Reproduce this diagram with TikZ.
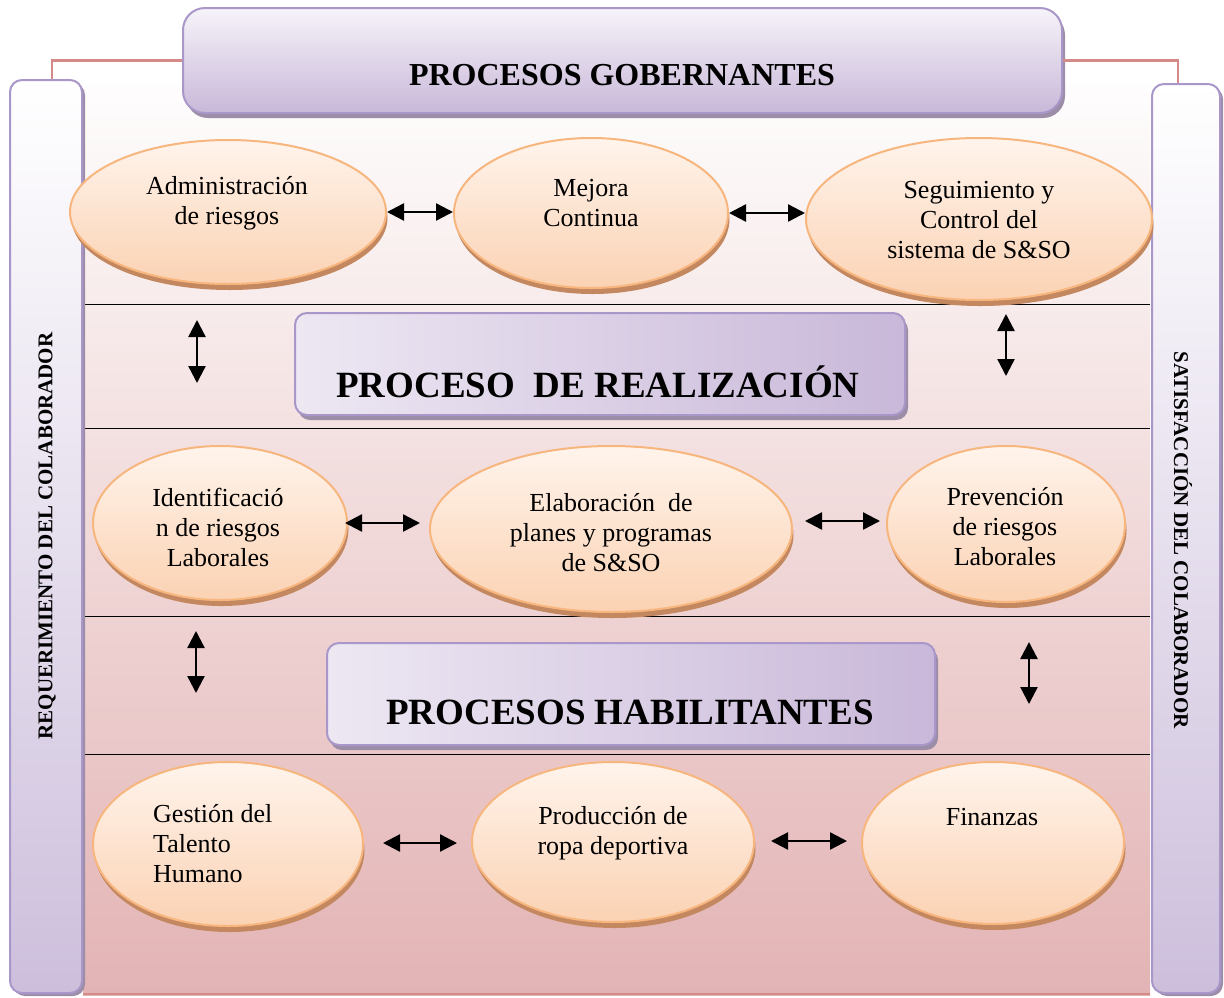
\documentclass[tikz,border=0pt]{standalone}
\usepackage{fontspec}
\setmainfont{Liberation Serif}
\usetikzlibrary{shapes.geometric,shadows,arrows.meta}
\definecolor{bgtop}{HTML}{FEFDFD}
\definecolor{bgbot}{HTML}{E3B3B4}
\definecolor{bartop}{HTML}{FFFFFF}
\definecolor{barbot}{HTML}{CDBFDC}
\definecolor{bborder}{HTML}{A897C8}
\definecolor{bshad}{HTML}{9C8DA8}
\definecolor{btop}{HTML}{F6F3F9}
\definecolor{bbot}{HTML}{C9B8D9}
\definecolor{etop}{HTML}{FFF4EC}
\definecolor{ebot}{HTML}{FBD2B3}
\definecolor{eborder}{HTML}{F8B67F}
\definecolor{eshad}{HTML}{C48860}
\definecolor{redline}{HTML}{D58A8A}
\tikzset{
  x=1pt, y=-1pt,
  ell/.style={ellipse, draw=eborder, line width=2pt, top color=etop, bottom color=ebot, inner sep=0pt,
    drop shadow={shadow xshift=1.5pt, shadow yshift=-6pt, fill=eshad, opacity=1}},
  etext/.style={font=\fontsize{26}{30}\selectfont, align=center, inner sep=0pt},
  banner/.style={draw=bborder, line width=2pt, inner sep=0pt,
    drop shadow={shadow xshift=3pt, shadow yshift=-5pt, fill=bshad, opacity=1}},
  sidebar/.style={draw=bborder, line width=2pt, rounded corners=12pt, inner sep=0pt, top color=bartop, bottom color=barbot,
    drop shadow={shadow xshift=3pt, shadow yshift=-3pt, fill=bshad, opacity=1}},
  sidetext/.style={font=\bfseries\fontsize{21}{21}\selectfont, inner sep=0pt},
  btext/.style={font=\bfseries\fontsize{37}{37}\selectfont, inner sep=0pt},
  dar/.style={{Triangle[length=17pt,width=17pt]}-{Triangle[length=17pt,width=17pt]}, line width=2.4pt},
  sep/.style={line width=1pt, black},
  conn/.style={draw=redline, line width=2.5pt}
}
\begin{document}
\begin{tikzpicture}
\useasboundingbox (0,0) rectangle (1224,997);
% background
\fill[top color=bgtop, bottom color=bgbot] (83,85) rectangle (1150,995);
\draw[redline, line width=2pt] (83,994) -- (1150,994);
\foreach \yy in {304,428,616,754} \draw[sep] (83,\yy) -- (1150,\yy);

% side bars
\node[sidebar, minimum width=72pt, minimum height=913pt] (lbar) at (46,536.5) {};
\node[sidebar, minimum width=68pt, minimum height=909pt] (rbar) at (1186,538.5) {};
\node[sidetext, rotate=90] (ltxt) at (47,536) {REQUERIMIENTO DEL COLABORADOR};
\node[sidetext, rotate=-90] (rtxt) at (1183,540) {SATISFACCIÓN DEL COLABORADOR};

% top banner
\node[banner, rounded corners=22pt, top color=btop, bottom color=bbot, minimum width=879pt, minimum height=105pt] (gob) at (622.5,60.5) {};
\node[font=\bfseries\fontsize{32}{32}\selectfont, inner sep=0pt] (gobt) at (622,75) {PROCESOS GOBERNANTES};
\draw[conn] ([xshift=6pt]lbar.north) |- (gob.west);
\draw[conn] (gob.east) -| ([xshift=-8pt]rbar.north);

% middle banners
\node[banner, rounded corners=12pt, left color=btop!80!bbot, right color=bbot, minimum width=610pt, minimum height=102pt] (real) at (600,364) {};
\node[btext] (realt) at (598,382) {PROCESO\ \ DE REALIZACIÓN};
\node[banner, rounded corners=12pt, left color=btop!80!bbot, right color=bbot, minimum width=608pt, minimum height=102pt] (hab) at (631,694) {};
\node[btext] (habt) at (630,712) {PROCESOS HABILITANTES};

% row 1
\node[ell, minimum width=316pt, minimum height=144pt] (e1) at (228,212) {};
\node[ell, minimum width=274pt, minimum height=150pt] (e2) at (591,213) {};
\node[ell, minimum width=346pt, minimum height=162pt] (e3) at (979,219) {};
\node[etext] (t1) at (227,203) {Administración\\de riesgos};
\node[etext] (t2) at (591,203) {Mejora\\Continua};
\node[etext] (t3) at (979,220) {Seguimiento y\\Control del\\sistema de S\&SO};

% row 2
\node[ell, minimum width=254pt, minimum height=154pt] (e4) at (220,523) {};
\node[ell, minimum width=362pt, minimum height=166pt] (e5) at (611,529) {};
\node[ell, minimum width=238pt, minimum height=156pt] (e6) at (1006,524) {};
\node[etext] (t4) at (218,527) {Identificació\\n de riesgos\\Laborales};
\node[etext] (t5) at (611,533) {Elaboración\ \ de\\planes y programas\\de S\&SO};
\node[etext] (t6) at (1005,527) {Prevención\\de riesgos\\Laborales};

% row 3
\node[ell, minimum width=270pt, minimum height=164pt] (e7) at (228,844) {};
\node[ell, minimum width=282pt, minimum height=160pt] (e8) at (613,842) {};
\node[ell, minimum width=262pt, minimum height=162pt] (e9) at (993,843) {};
\node[etext, align=left, anchor=west] (t7) at (153,844) {Gestión del\\Talento\\Humano};
\node[etext] (t8) at (613,833) {Producción de\\ropa deportiva};
\node[etext] (t9) at (992,817) {Finanzas};

% horizontal arrows
\draw[dar] (e1.east) -- (e1.east -| e2.west);
\draw[dar] (e2.east) -- (e2.east -| e3.west);
\draw[dar, shorten <=-3pt, shorten >=9pt] (e4.east) -- (e4.east -| e5.west);
\draw[dar, shorten <=12pt, shorten >=6pt] (e5.east |- 0,521) -- (e6.west |- 0,521);
\draw[dar, shorten <=19pt, shorten >=14pt] (e7.east |- 0,843) -- (e8.west |- 0,843);
\draw[dar, shorten <=16pt, shorten >=14pt] (e8.east |- 0,841) -- (e9.west |- 0,841);

% vertical arrows
\coordinate (v1a) at (197,320); \coordinate (v1b) at (197,383);
\coordinate (v2a) at (1006,314); \coordinate (v2b) at (1006,376);
\coordinate (v3a) at (196,631); \coordinate (v3b) at (196,693);
\coordinate (v4a) at (1029,642); \coordinate (v4b) at (1029,704);
\draw[dar] (v1a) -- (v1b);
\draw[dar] (v2a) -- (v2b);
\draw[dar] (v3a) -- (v3b);
\draw[dar] (v4a) -- (v4b);
\end{tikzpicture}
\end{document}
